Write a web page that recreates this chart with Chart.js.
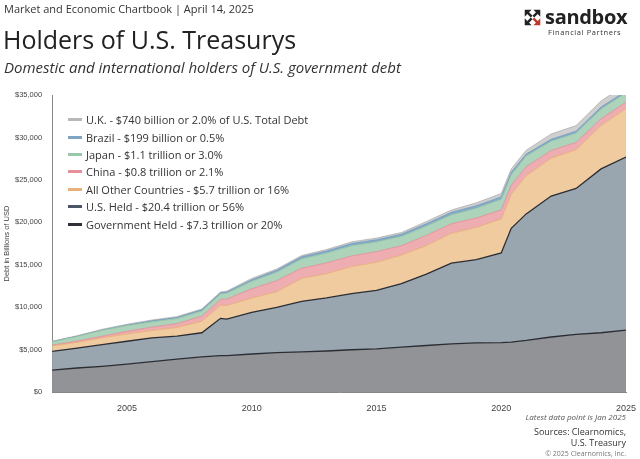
<!DOCTYPE html>
<html><head><meta charset="utf-8">
<script src="https://cdn.jsdelivr.net/npm/chart.js@4"></script>
<style>
body{margin:0;width:640px;height:459px;background:#fff;font-family:"Source Sans Pro","Open Sans","Liberation Sans",sans-serif;position:relative;overflow:hidden}
.abs{position:absolute;white-space:nowrap}
#c{position:absolute;left:0;top:0}
.leg div{height:17.4px;font-size:11px;color:#333;display:flex;align-items:center}
.leg span{display:inline-block;width:14px;height:3px;margin-right:4px}
.ft{font-size:8px;color:#555;right:14px;text-align:right}
</style></head><body>
<canvas id="c" width="640" height="459"></canvas>
<div class="abs" style="left:4px;top:1px;font-size:11px;color:#333">Market and Economic Chartbook | April 14, 2025</div>
<div class="abs" style="left:3px;top:22px;font-size:25px;color:#222">Holders of U.S. Treasurys</div>
<div class="abs" style="left:4px;top:57px;font-size:15px;color:#333;font-style:italic">Domestic and international holders of U.S. government debt</div>
<svg class="abs" style="left:523px;top:8px" width="19" height="19" viewBox="0 0 22 22">
<g fill="#222"><path d="M2 2h8l-3 3 4 4-2 2-4-4-3 3z"/><path d="M20 2v8l-3-3-4 4-2-2 4-4-3-3z"/><path d="M2 20v-8l3 3 4-4 2 2-4 4 3 3z"/></g>
<path d="M20 20h-8l3-3-4-4 2-2 4 4 3-3z" fill="#c0392b"/></svg>
<div class="abs" style="left:545px;top:3px;font-size:20px;font-weight:bold;color:#222;letter-spacing:-0.3px">sandbox</div>
<div class="abs" style="left:548px;top:27px;font-size:7.5px;color:#333;letter-spacing:0.6px">Financial Partners</div>
<div class="abs leg" style="left:68px;top:111px">
<div><span style="background:#b9b9b9"></span>U.K. - $740 billion or 2.0% of U.S. Total Debt</div>
<div><span style="background:#7ea5c6"></span>Brazil - $199 billion or 0.5%</div>
<div><span style="background:#98c7aa"></span>Japan - $1.1 trillion or 3.0%</div>
<div><span style="background:#e8909a"></span>China - $0.8 trillion or 2.1%</div>
<div><span style="background:#eab07c"></span>All Other Countries - $5.7 trillion or 16%</div>
<div><span style="background:#4c5566"></span>U.S. Held - $20.4 trillion or 56%</div>
<div><span style="background:#2e3138"></span>Government Held - $7.3 trillion or 20%</div>
</div>
<div class="abs ft" style="top:411px;font-style:italic">Latest data point is Jan 2025</div>
<div class="abs ft" style="top:425px;font-size:9px;color:#333">Sources: Clearnomics,</div>
<div class="abs ft" style="top:436px;font-size:9px;color:#333">U.S. Treasury</div>
<div class="abs ft" style="top:449px;font-size:7px;color:#777">© 2025 Clearnomics, Inc.</div>
<script>
const years=[2002,2003,2004,2005,2006,2007,2008,2008.75,2009,2010,2011,2012,2013,2014,2015,2016,2017,2018,2019,2020,2020.4,2021,2022,2023,2024,2025];
// trillions of USD
const govtHeld=[2.6,2.85,3.05,3.3,3.6,3.9,4.15,4.3,4.3,4.5,4.65,4.75,4.85,5.0,5.1,5.3,5.5,5.7,5.8,5.85,5.9,6.1,6.5,6.8,7.0,7.3];
const usHeld=[2.2,2.35,2.55,2.7,2.8,2.7,2.85,4.4,4.3,4.9,5.35,5.95,6.25,6.6,6.9,7.5,8.4,9.5,9.8,10.55,13.4,14.9,16.6,17.2,19.3,20.4];
const otherCountries=[0.64,0.67,0.79,0.87,0.86,1.02,1.35,1.53,1.61,1.68,1.83,2.7,2.86,3.19,3.3,3.35,3.36,3.51,3.81,4.0,3.99,4.49,4.46,4.55,5.1,5.7];
const china=[0.1,0.15,0.2,0.3,0.4,0.45,0.6,0.7,0.75,1.1,1.3,1.2,1.27,1.25,1.25,1.1,1.2,1.12,1.1,1.07,1.08,1.07,0.9,0.86,0.8,0.76];
const japan=[0.4,0.55,0.7,0.68,0.64,0.6,0.6,0.63,0.7,0.88,1.0,1.1,1.15,1.2,1.15,1.1,1.1,1.05,1.15,1.25,1.25,1.25,1.1,1.1,1.15,1.1];
const brazil=[0.01,0.01,0.02,0.05,0.1,0.13,0.15,0.14,0.14,0.17,0.22,0.25,0.25,0.26,0.25,0.25,0.28,0.3,0.3,0.28,0.27,0.24,0.22,0.23,0.23,0.2];
const uk=[0.05,0.07,0.09,0.1,0.1,0.1,0.1,0.1,0.1,0.17,0.15,0.15,0.17,0.2,0.2,0.2,0.26,0.27,0.34,0.4,0.41,0.45,0.62,0.66,0.72,0.74];
const pts=a=>a.map((v,i)=>({x:years[i],y:v*1000}));
const ds=(label,data,bg,line,lw,fill)=>({label,data:pts(data),backgroundColor:bg,borderColor:line,borderWidth:lw,fill,pointRadius:0,tension:0});
new Chart(document.getElementById('c'),{type:'line',
data:{datasets:[
ds('Government Held',govtHeld,'#919397','#2a2d33',1.3,'origin'),
ds('U.S. Held',usHeld,'#9aa6af','#2a2d33',1.3,'-1'),
ds('All Other Countries',otherCountries,'#f1cba0','#e6a86e',0.8,'-1'),
ds('China',china,'#eeadb0','#e08a93',0.8,'-1'),
ds('Japan',japan,'#aed3bb','#8cbf9f',0.8,'-1'),
ds('Brazil',brazil,'#86abc8','#6f98bb',0.8,'-1'),
ds('U.K.',uk,'#cfcfcf','#b0b0b0',0.8,'-1')]},
options:{responsive:false,animation:false,
layout:{padding:{top:95,bottom:42,left:0,right:14}},
plugins:{legend:{display:false},tooltip:{enabled:false}},
scales:{
x:{type:'linear',min:2002,max:2025,grid:{display:false},border:{color:'#888'},
ticks:{stepSize:5,autoSkip:false,color:'#444',font:{size:9},callback:v=>v%5===0?String(v):''}},
y:{stacked:true,min:0,max:35000,grid:{display:false},border:{color:'#888'},
title:{display:true,text:'Debt in Billions of USD',color:'#444',font:{size:7.5},padding:2},
ticks:{stepSize:5000,color:'#444',font:{size:7.5},padding:2,callback:v=>'$'+v.toLocaleString('en-US')}}}}});
</script></body></html>
